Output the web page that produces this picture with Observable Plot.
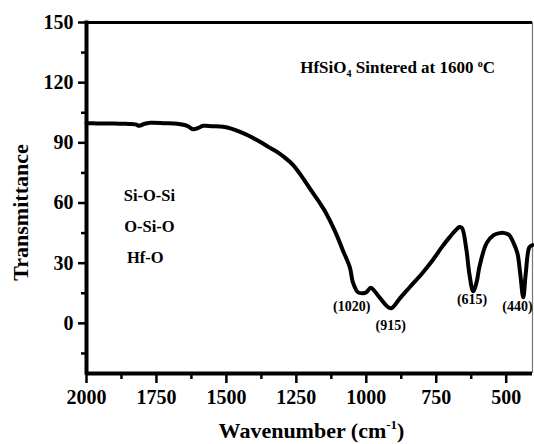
<!DOCTYPE html>
<html><head><meta charset="utf-8">
<script src="https://cdn.jsdelivr.net/npm/d3@7"></script>
<script src="https://cdn.jsdelivr.net/npm/@observablehq/plot@0.6"></script>
<style>
body{margin:0;background:#fff;}
</style></head><body><div id="chart"></div>
<script>
const wavenumber = [2000,1993,1950,1900,1850,1825,1811,1795,1772,1720,1676,1640,1619,1600,1583,1550,1512,1480,1451,1420,1380,1350,1319,1290,1262,1237,1191,1166,1148,1112,1084,1059,1048,1030,1012,1000,984,970,952,913,880,845,800,763,730,702,680,667,658,642,632,618,605,596,570,545,524,505,489,475,460,450,439,430,417,406];
const transmittance = [99.8,99.8,99.6,99.7,99.4,99.2,98.5,99.4,100,99.8,99.5,98.5,96.8,97.5,98.5,98.3,98,97,95.5,93.5,90.5,88,85.5,82.5,79,74.5,65,60,56,46,36.5,28,20.5,15.5,15,15.5,17.8,16,12.8,7.5,12.5,18,25,31.5,38,43,46.5,48,47.5,36.5,25,16,21,28,40,44,45,45,44,40.5,35,25,13,25,38,39];

const majorX = [2000,1750,1500,1250,1000,750,500];
const minorX = [1875,1625,1375,1125,875,625];
const majorY = [0,30,60,90,120,150];
const minorY = [-15,15,45,75,105,135];

const peakLabels = ["(1020)","(915)","(615)","(440)"];
const peakLabelX = [1052,913,622,460];
const peakLabelY = [8.2,-1,12,8.3];

const bondLabels = ["Si-O-Si","O-Si-O","Hf-O"];
const bondLabelX = [1775,1775,1790];
const bondLabelY = [63.5,48,32.5];

const titleText = "HfSiO4 Sintered at 1600 oC";
const xTitle = "Wavenumber (cm-1)";
const yTitle = "Transmittance";

const curve = wavenumber.map((w,i)=>({w, t: transmittance[i]}));
const peaks = peakLabels.map((s,i)=>({s, x: peakLabelX[i], y: peakLabelY[i]}));
const bonds = bondLabels.map((s,i)=>({s, x: bondLabelX[i], y: bondLabelY[i]}));

const plot = Plot.plot({
  width: 534,
  height: 444,
  marginLeft: 86,
  marginRight: 2,
  marginTop: 22,
  marginBottom: 71,
  style: {background: "#fff", color: "#000", fontFamily: "'Liberation Serif', 'Times New Roman', serif", fontWeight: "bold"},
  x: {domain: [2000, 406], label: null},
  y: {domain: [-25, 150], label: null},
  marks: [
    Plot.ruleX([406], {stroke: "#777", strokeWidth: 1.2}),
    Plot.ruleY([150], {stroke: "#000", strokeWidth: 3}),
    Plot.ruleY([-25], {stroke: "#000", strokeWidth: 4}),
    Plot.ruleX([2000], {stroke: "#000", strokeWidth: 4, y1: -25.9, y2: 150.7}),
    Plot.axisY(majorY, {tickSize: 8, tickPadding: 5, strokeWidth: 2.5, fontSize: 20, tickFormat: d => String(d), label: null}),
    Plot.axisY(minorY, {tickSize: 5, strokeWidth: 2.5, tickFormat: () => "", label: null}),
    Plot.axisX(majorX, {tickSize: 10, tickPadding: 6, strokeWidth: 2.5, fontSize: 20, tickFormat: d => String(d), label: null}),
    Plot.axisX(minorX, {tickSize: 6, strokeWidth: 2.5, tickFormat: () => "", label: null}),
    Plot.line(curve, {x: "w", y: "t", stroke: "#000", strokeWidth: 4, curve: "catmull-rom"}),
    Plot.text(peaks, {x: "x", y: "y", text: "s", fontSize: 14, fill: "#000"}),
    Plot.text(bonds, {x: "x", y: "y", text: "s", fontSize: 16.5, fill: "#000"}),
    Plot.text([titleText], {x: 888, y: 127.5, fontSize: 17, fill: "#000"}),
    Plot.text([yTitle], {frameAnchor: "left", textAnchor: "middle", lineAnchor: "middle", rotate: -90, dx: -66, dy: 14.5, fontSize: 22, fill: "#000"}),
    Plot.text([xTitle], {frameAnchor: "bottom", textAnchor: "middle", lineAnchor: "middle", dx: 2, dy: 57, fontSize: 22, fill: "#000"})
  ]
});

d3.select(plot).selectAll("text").each(function(){
  const el = d3.select(this);
  const c = this.textContent;
  if (c === xTitle) {
    el.text(null);
    el.append("tspan").text("Wavenumber (cm");
    el.append("tspan").attr("dy", -9).attr("font-size", 13).text("-1");
    el.append("tspan").attr("dy", 9).text(")");
  } else if (c === titleText) {
    el.text(null);
    el.append("tspan").text("HfSiO");
    el.append("tspan").attr("dy", 4).attr("font-size", 10).text("4");
    el.append("tspan").attr("dy", -4).text(" Sintered at 1600 ");
    el.append("tspan").attr("dy", -6).attr("font-size", 10).text("o");
    el.append("tspan").attr("dy", 6).text("C");
  }
});

document.getElementById("chart").appendChild(plot);
</script></body></html>
